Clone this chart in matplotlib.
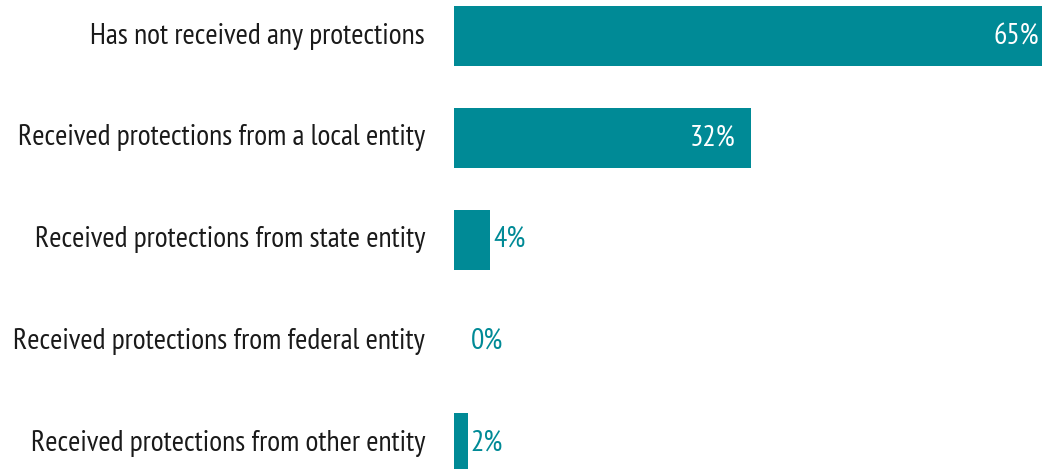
import matplotlib
matplotlib.use("Agg")
import matplotlib.pyplot as plt
from matplotlib import font_manager

categories = [
    "Has not received any protections",
    "Received protections from a local entity",
    "Received protections from state entity",
    "Received protections from federal entity",
    "Received protections from other entity",
]
values = [65.0, 32.3, 3.9, 0.0, 1.5]
value_labels = ["65%", "32%", "4%", "0%", "2%"]

names = {f.name for f in font_manager.fontManager.ttflist}
candidates = ["PT Sans Narrow", "Fira Sans Extra Condensed", "Roboto Condensed",
              "Fira Sans Condensed", "Archivo Narrow", "DejaVu Sans"]
font = next(c for c in candidates if c in names)
plt.rcParams['font.family'] = [font, "DejaVu Sans"]

teal = "#008A96"
fig = plt.figure(figsize=(10.42, 4.69), dpi=100)
ax = fig.add_axes([454/1042, 0, 1 - 454/1042, 1])

pos = list(range(len(categories)))
ax.barh(pos, values, height=0.59, color=teal)
ax.set_xlim(0, 63.9)
ax.set_ylim(4.255, -0.354)
ax.axis("off")

# size the font so the longest label spans the same width as in the reference
renderer = fig.canvas.get_renderer()
probe = fig.text(0, 0, categories[3], fontsize=20)
w = probe.get_window_extent(renderer).width
probe.remove()
fs = 20 * 411 / w

for i, (c, v, lab) in enumerate(zip(categories, values, value_labels)):
    ax.annotate(c, xy=(0, i), xytext=(-29, 0), textcoords="offset pixels",
                ha="right", va="center", fontsize=fs, color="#1a1a1a")
    if v >= 20:
        ax.annotate(lab, xy=(min(v, 63.9), i), xytext=(-16 if v < 63.9 else -3, 0), textcoords="offset pixels",
                    ha="right", va="center", fontsize=fs, color="white")
    else:
        xv = max(v, 1.5)
        ax.annotate(lab, xy=(xv, i), xytext=(3, 0), textcoords="offset pixels",
                    ha="left", va="center", fontsize=fs, color=teal)

fig.savefig("out.png", dpi=100)
